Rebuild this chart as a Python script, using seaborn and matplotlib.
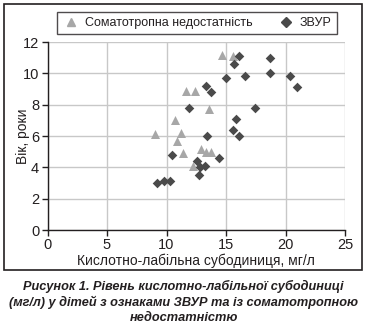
import matplotlib
matplotlib.use("Agg")
import matplotlib.pyplot as plt
import seaborn as sns
import pandas as pd
from matplotlib.patches import Rectangle
from matplotlib.lines import Line2D

# ---- data ----
gh_x = [9.0, 10.7, 11.2, 10.9, 11.4, 11.6, 12.4, 13.6, 12.9, 13.3, 13.7, 12.2, 14.7, 15.6]
gh_y = [6.1, 7.0, 6.2, 5.7, 4.9, 8.9, 8.9, 7.7, 5.2, 5.0, 5.0, 4.1, 11.2, 11.1]

iugr_x = [9.2, 9.8, 10.3, 10.5, 11.9, 12.6, 12.8, 13.2, 12.7, 13.4, 14.4, 13.3, 13.7,
          15.0, 16.6, 18.7, 20.4, 21.0, 17.4, 15.8, 15.6, 16.1, 16.1, 15.7, 18.7]
iugr_y = [3.0, 3.1, 3.1, 4.8, 7.8, 4.4, 4.0, 4.1, 3.5, 6.0, 4.6, 9.2, 8.8,
          9.7, 9.8, 10.0, 9.8, 9.1, 7.8, 7.1, 6.4, 6.0, 11.1, 10.6, 11.0]

series_names = ["Соматотропна недостатність", "ЗВУР"]
x_ticks = [0, 5, 10, 15, 20, 25]
y_ticks = [0, 2, 4, 6, 8, 10, 12]
x_label = "Кислотно-лабільна субодиниця, мг/л"
y_label = "Вік, роки"
caption = ("Рисунок 1. Рівень кислотно-лабільної субодиниці\n"
           "(мг/л) у дітей з ознаками ЗВУР та із соматотропною\n"
           "недостатністю")

df = pd.DataFrame({
    "x": gh_x + iugr_x,
    "y": gh_y + iugr_y,
    "group": [series_names[0]] * len(gh_x) + [series_names[1]] * len(iugr_x),
})

sns.set_style("white")
plt.rcParams["font.family"] = ["Liberation Sans", "DejaVu Sans"]
text_color = "#231f20"

W, H = 367, 327
fig = plt.figure(figsize=(W / 100, H / 100), dpi=100)
ax = fig.add_axes([47.5 / W, 1 - 230 / H, (345 - 47.5) / W, (230 - 42) / H])

colors = {series_names[0]: "#a7a7a7", series_names[1]: "#4a4a4a"}
markers = {series_names[0]: "^", series_names[1]: "D"}
sizes = {series_names[0]: 42, series_names[1]: 24}

for g in series_names:
    sub = df[df.group == g]
    sns.scatterplot(data=sub, x="x", y="y", ax=ax, color=colors[g], marker=markers[g],
                    s=sizes[g], linewidth=0, legend=False, zorder=3)

ax.set_xlim(0, 25)
ax.set_ylim(0, 12)
ax.set_xticks(x_ticks)
ax.set_yticks(y_ticks)
ax.grid(True, color="#c8c8c8", linewidth=1.0, zorder=0)
ax.set_axisbelow(True)
for s in ["top", "right"]:
    ax.spines[s].set_visible(False)
for s in ["left", "bottom"]:
    ax.spines[s].set_color(text_color)
    ax.spines[s].set_linewidth(1.0)
ax.tick_params(axis="both", direction="out", length=4, width=1.0, color=text_color,
               labelsize=10.5, labelcolor=text_color, pad=2, left=True, bottom=True)
ax.set_xlabel(x_label, fontsize=10, color=text_color, labelpad=1)
ax.set_ylabel(y_label, fontsize=10, color=text_color)
ax.yaxis.set_label_coords(-0.058, 0.5)

# legend
handles = [Line2D([], [], linestyle="none", marker=markers[g], color=colors[g],
                  markersize=6 if g == series_names[0] else 5) for g in series_names]
leg = fig.legend(handles, series_names, loc="center", bbox_to_anchor=(197 / W, 1 - 23 / H),
                 ncol=2, frameon=True, fancybox=False, fontsize=9, handlelength=1.4,
                 handletextpad=0.4, columnspacing=2.0, borderpad=0.4, borderaxespad=0,
                 labelcolor=text_color)
leg.get_frame().set_edgecolor(text_color)
leg.get_frame().set_linewidth(1.0)

# outer frame
fig.patches.append(Rectangle((3.5 / W, 1 - 270 / H), (362 - 3.5) / W, (270 - 3.5) / H,
                             transform=fig.transFigure, fill=False,
                             edgecolor=text_color, linewidth=1.2))

fig.text(0.5, 1 - 302 / H, caption, ha="center", va="center", fontsize=9.2,
         fontweight="bold", fontstyle="italic", color=text_color, linespacing=1.25)

fig.savefig("out.png", dpi=100)
